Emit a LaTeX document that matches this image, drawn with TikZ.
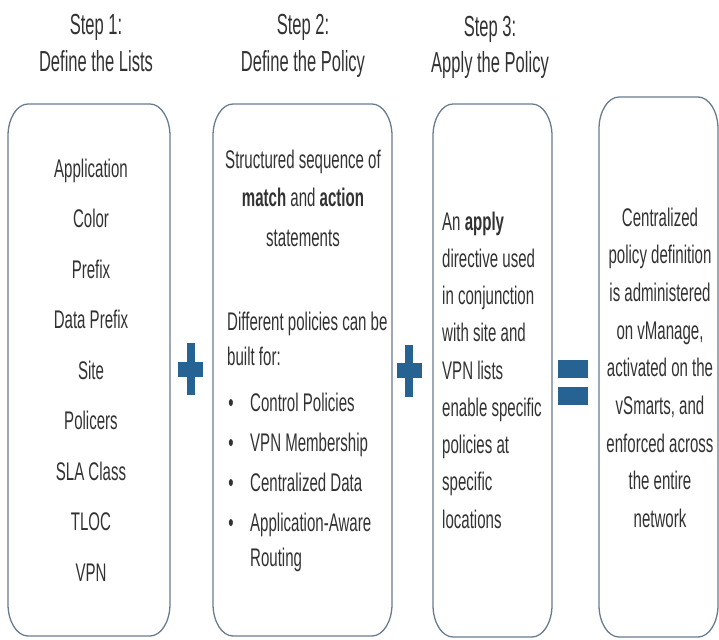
\documentclass[tikz,border=0pt]{standalone}
\usepackage{fontspec}
\setmainfont{Liberation Sans}[FakeStretch=0.59]
\newfontfamily\titlefont{Liberation Sans}[FakeStretch=0.57]
\definecolor{txt}{RGB}{50,50,50}
\definecolor{edge}{RGB}{105,124,142}
\definecolor{sym}{RGB}{38,98,146}
\tikzset{
  boxline/.style={draw=edge, line width=1.3pt},
  title/.style={inner sep=0pt, anchor=base, text=txt, font=\titlefont\fontsize{29}{31}\selectfont},
  body/.style={inner sep=0pt, anchor=base, text=txt, font=\fontsize{25.5}{27}\selectfont},
  bodyl/.style={body, anchor=base west},
  symbol/.style={fill=sym, draw=none}
}
\newcommand\ebox[4]{\draw[boxline] (#1,#2+32) .. controls (#1,#2+14.3) and (#1+9,#2) .. (#1+20,#2) -- (#3-20,#2) .. controls (#3-9,#2) and (#3,#2+14.3) .. (#3,#2+32) -- (#3,#4-32) .. controls (#3,#4-14.3) and (#3-9,#4) .. (#3-20,#4) -- (#1+20,#4) .. controls (#1+9,#4) and (#1,#4-14.3) .. (#1,#4-32) -- cycle;}
\begin{document}
\begin{tikzpicture}[x=1pt,y=-1pt]
\useasboundingbox (0,0) rectangle (719,639);
% titles
\node[title] (t1a) at (96,35) {Step 1:};
\node[title] (t1b) at (96,72) {Define the Lists};
\node[title] (t2a) at (303,35) {Step 2:};
\node[title] (t2b) at (303,72) {Define the Policy};
\node[title] (t3a) at (490,37) {Step 3:};
\node[title] (t3b) at (490,73) {Apply the Policy};
% boxes
\ebox{8}{104}{170}{636}
\ebox{213}{104}{392}{636}
\ebox{433}{104}{552}{637}
\ebox{599}{97}{718}{637}
% box 1
\foreach \w [count=\i from 0] in {Application,Color,Prefix,Data Prefix,Site,Policers,SLA Class,TLOC,VPN}{
  \node[body] (l\i) at (91,177+50.5*\i) {\w};
}
% box 2
\node[body] (p1) at (303,168) {Structured sequence of};
\node[body] (p2) at (303,206) {\textbf{match} and \textbf{action}};
\node[body] (p3) at (303,246) {statements};
\node[bodyl] (p4) at (227,330) {Different policies can be};
\node[bodyl] (p5) at (227,365) {built for:};
\foreach \w/\yy [count=\i] in {Control Policies/411,VPN Membership/451,Centralized Data/491,Application-Aware/531}{
  \node[body] (b\i) at (231,\yy) {\textbullet};
  \node[bodyl] (q\i) at (250,\yy) {\w};
}
\node[bodyl] (q5) at (250,566) {Routing};
% box 3
\foreach \w [count=\i from 0] in {An \textbf{apply},directive used,in conjunction,with site and,VPN lists,enable specific,policies at,specific,locations}{
  \node[bodyl] (a\i) at (442,230+37.25*\i) {\w};
}
% box 4
\foreach \w [count=\i from 0] in {Centralized,policy definition,is administered,{on vManage,},activated on the,{vSmarts, and},enforced across,the entire,network}{
  \node[body] (c\i) at (660,226+37.7*\i) {\w};
}
% symbols
\fill[symbol] (178,362) rectangle (203,377);
\fill[symbol] (187,343) rectangle (195,395);
\fill[symbol] (396.5,363) rectangle (421.5,378);
\fill[symbol] (405,345) rectangle (413,397);
\fill[symbol] (558,360) rectangle (588,378);
\fill[symbol] (558,387) rectangle (588,405);
\end{tikzpicture}
\end{document}
